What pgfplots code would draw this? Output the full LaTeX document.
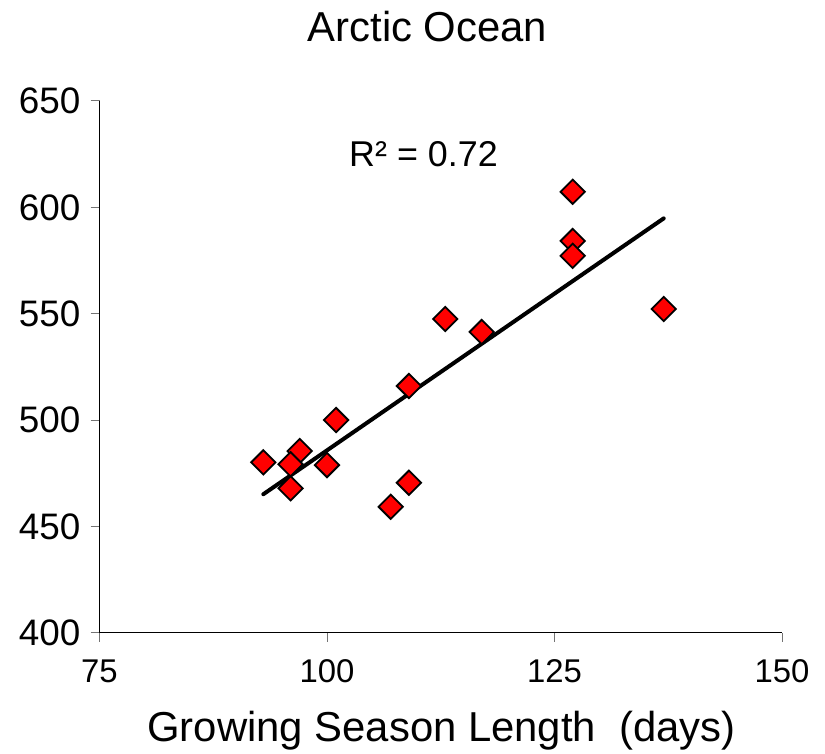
\documentclass[border=0pt]{standalone}
\usepackage{pgfplots}
\pgfplotsset{compat=1.18}
\usepackage{fontspec}
\setmainfont{Liberation Sans}
\begin{document}
\begin{tikzpicture}
\useasboundingbox (0bp,0bp) rectangle (825bp,754bp);
\begin{axis}[
  at={(99.5bp,121.3bp)}, anchor=south west,
  scale only axis, width=682.5bp, height=531.7bp,
  xmin=75, xmax=150, ymin=400, ymax=650,
  xtick={75,100,125,150}, ytick={400,450,...,650},
  axis lines*=left,
  axis line style={black, line width=1bp},
  tick align=outside, major tick length=9bp,
  tick style={black!55, line width=1bp},
  /pgf/number format/assume math mode=true,
  yticklabel style={font=\fontsize{37}{37}\selectfont, inner sep=0pt, anchor=east, xshift=-10bp},
  xticklabel style={font=\fontsize{33}{33}\selectfont, inner sep=0pt, anchor=base, yshift=-41bp},
  clip=false,
]
\addplot[only marks, mark=square*, mark size=8.6bp, mark options={rotate=45, fill=red, draw=black, line width=1.8bp}] coordinates {
(93,480.1) (97,485.4) (96,479.2) (100,478.8) (96,467.9) (101,500.0)
(109,470.5) (107,459.2) (109,516.0) (113,547.5) (117,541.4)
(127,607.3) (127,584.2) (127,577.2) (137,552.2)
};
\addplot[black, line width=4bp, line cap=round] coordinates {(93,465.1) (137,594.8)};
\end{axis}
\node[anchor=base, inner sep=0pt, font=\fontsize{42}{42}\selectfont] at (427.5bp,712bp) {Arctic Ocean};
\node[anchor=base, inner sep=0pt, font=\fontsize{36}{36}\selectfont] at (423.5bp,587.3bp) {R² = 0.72};
\node[anchor=base, inner sep=0pt, font=\fontsize{42}{42}\selectfont] at (441.5bp,12.3bp) {Growing Season Length\ \ (days)};
\end{tikzpicture}
\end{document}
